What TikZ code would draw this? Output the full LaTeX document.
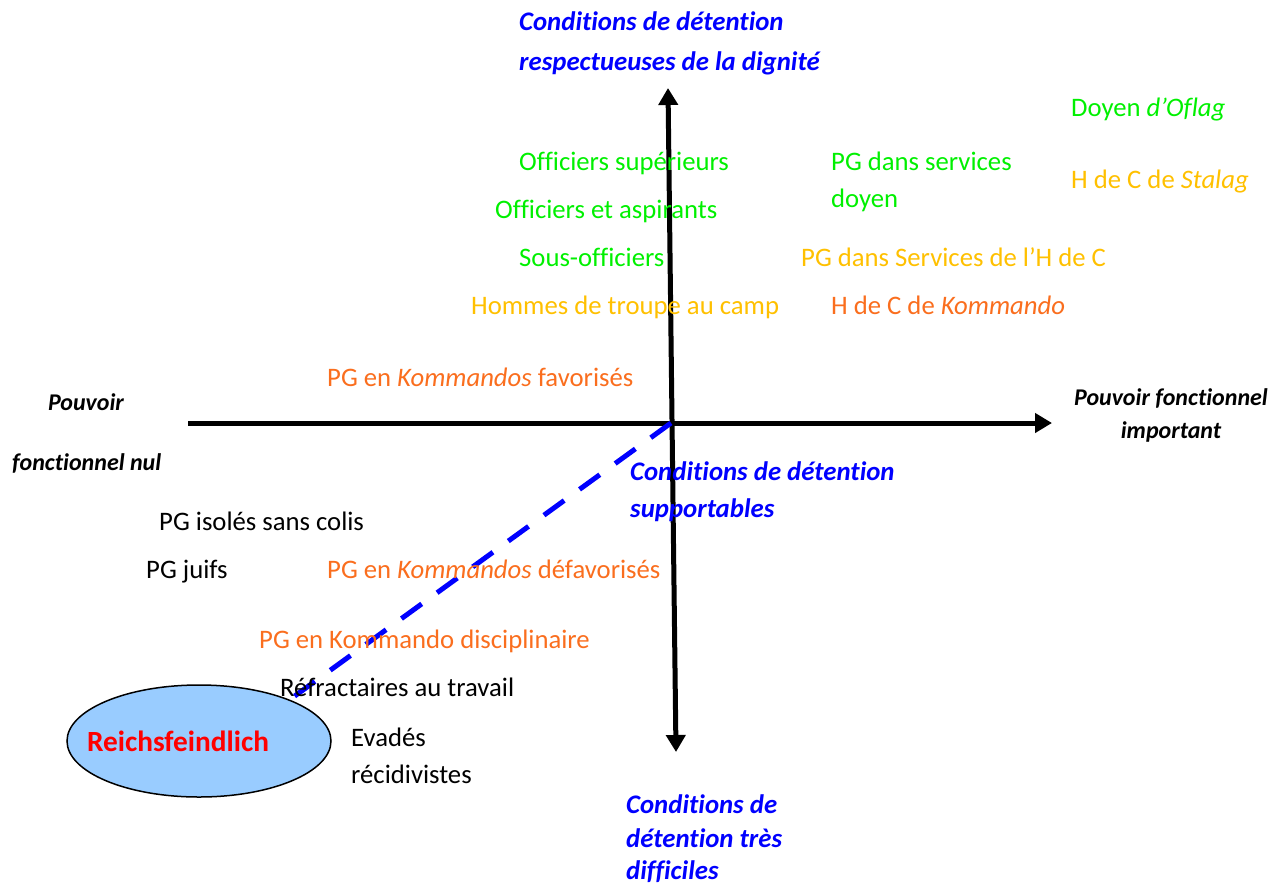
\documentclass[tikz,border=0pt]{standalone}
\usepackage{fontspec}
\setmainfont[Ligatures={NoCommon}]{Carlito}
\usetikzlibrary{arrows.meta,shapes.geometric}
\definecolor{grn}{RGB}{0,240,0}
\definecolor{gld}{RGB}{255,192,0}
\definecolor{org}{RGB}{250,110,30}
\definecolor{blu}{RGB}{0,0,255}
\definecolor{ellfill}{RGB}{153,204,255}
\definecolor{rd}{RGB}{255,0,0}
\tikzset{
  lbl/.style={anchor=base west, inner sep=0pt, font=\fontsize{26.7}{32}\selectfont},
  cond/.style={lbl, text=blu, font=\fontsize{26.8}{32}\selectfont\bfseries\itshape},
  axlbl/.style={anchor=base, inner sep=0pt, font=\fontsize{24}{28}\selectfont\bfseries\itshape},
  axis/.style={line width=5pt, -{Triangle[length=17pt,width=19pt]}},
}
\begin{document}
\begin{tikzpicture}[x=1pt,y=-1pt]
\useasboundingbox (0,0) rectangle (1287,886);
% coordinates
\coordinate (hl) at (188,423);
\coordinate (hr) at (1052,423);
\coordinate (vt) at (668,88);
\coordinate (vb) at (676,752);
\coordinate (o) at (671,423);
\coordinate (d) at (292,698);
% ellipse
\node[ellipse, draw, line width=1.5pt, fill=ellfill, minimum width=264pt, minimum height=112pt, inner sep=0pt] (e) at (199,741) {};
\node[inner sep=0pt, text=rd, font=\fontsize{29.3}{32}\selectfont\bfseries] (rf) at (178,741) {Reichsfeindlich};
% axes
\draw[axis] (hl) -- (hr);
\draw[line width=5pt, {Triangle[length=17pt,width=19pt]}-{Triangle[length=17pt,width=19pt]}] (vb) -- (vt);
% dashed
\draw[blu, line width=5pt, dash pattern=on 25pt off 19pt] (o) -- (d);
% blue conditions
\node[cond] (c1) at (519,30) {Conditions de détention};
\node[cond] (c2) at (519,70) {respectueuses de la dignité};
\node[cond] (c3) at (630,480) {Conditions de détention};
\node[cond] (c4) at (630,517) {supportables};
\node[cond] (c5) at (626,813) {Conditions de};
\node[cond] (c6) at (626,847) {détention très};
\node[cond] (c7) at (626,879) {difficiles};
% axis labels
\node[axlbl] (a1) at (86,410) {Pouvoir};
\node[axlbl, anchor=base west] (a2) at (12,470) {fonctionnel nul};
\node[axlbl] (a3) at (1171,405) {Pouvoir fonctionnel};
\node[axlbl] (a4) at (1171,438) {important};
% green
\node[lbl, text=grn] (g1) at (1071,116) {Doyen \textit{d’Oflag}};
\node[lbl, text=grn] (g2) at (519,170) {Officiers supérieurs};
\node[lbl, text=grn] (g3) at (831,170) {PG dans services};
\node[lbl, text=grn] (g4) at (831,207) {doyen};
\node[lbl, text=grn] (g5) at (495,218) {Officiers et aspirants};
\node[lbl, text=grn] (g6) at (519,266) {Sous-officiers};
% gold
\node[lbl, text=gld] (y1) at (1071,188) {H de C de \textit{Stalag}};
\node[lbl, text=gld] (y2) at (801,266) {PG dans Services de l’H de C};
\node[lbl, text=gld] (y3) at (471,314) {Hommes de troupe au camp};
% orange
\node[lbl, text=org] (o1) at (831,314) {H de C de \textit{Kommando}};
\node[lbl, text=org] (o2) at (327,386) {PG en \textit{Kommandos} favorisés};
\node[lbl, text=org] (o3) at (327,578) {PG en \textit{Kommandos} défavorisés};
\node[lbl, text=org] (o4) at (259,648) {PG en Kommando disciplinaire};
% black
\node[lbl] (k1) at (159,530) {PG isolés sans colis};
\node[lbl] (k2) at (146,578) {PG juifs};
\node[lbl] (k3) at (280,696) {Réfractaires au travail};
\node[lbl] (k4) at (351,746) {Evadés};
\node[lbl] (k5) at (351,783) {récidivistes};
\end{tikzpicture}
\end{document}
